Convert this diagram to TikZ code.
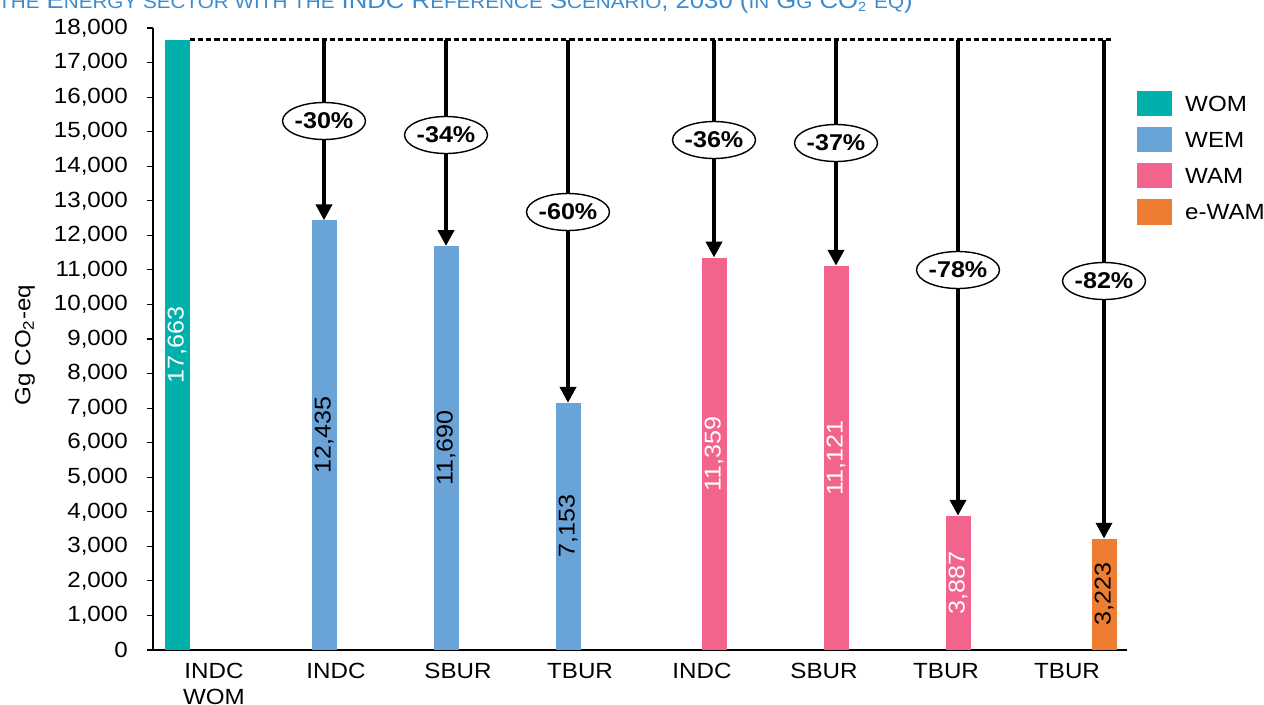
\documentclass[tikz,border=0pt]{standalone}
\usepackage{fontspec}
\setmainfont{Liberation Sans}[FakeStretch=1.1]
\usetikzlibrary{arrows.meta,shapes.geometric}

\definecolor{womcol}{RGB}{0,176,170}
\definecolor{wemcol}{RGB}{106,163,216}
\definecolor{wamcol}{RGB}{242,100,140}
\definecolor{ewamcol}{RGB}{237,125,49}
\definecolor{titlecol}{RGB}{60,140,205}

\newcommand{\smcap}[1]{{\fontsize{10.7}{12}\selectfont #1}}

\begin{document}
\begin{tikzpicture}[x=0.02cm,y=-0.02cm,
  lab/.style={font=\fontsize{12.5}{14.7}\selectfont},
  val/.style={font=\fontsize{13}{15}\selectfont,rotate=90},
  pct/.style={ellipse,draw,fill=white,line width=0.8pt,minimum width=1.62cm,
    minimum height=0.74cm,inner sep=0pt,font=\fontsize{13}{15}\selectfont\bfseries},
  drop/.style={line width=2.8pt,-{Triangle[length=9pt,width=9pt]}}]
  \useasboundingbox (0,0) rectangle (1264,704);

 % title, cut at the top edge
 \node[anchor=base east,inner sep=0pt,text=titlecol,font=\fontsize{13.3}{15}\selectfont] (title) at (913,8.5)
   {\smcap{THE} E\smcap{NERGY SECTOR WITH THE} INDC R\smcap{EFERENCE} S\smcap{CENARIO}, 2030 (\smcap{IN} G\smcap{G} CO\smcap{\textsubscript{2}} \smcap{EQ})};

 % axes
 \draw[line width=0.6pt] (153,650) -- (153,28);
 \draw[line width=0.6pt] (153,650) -- (1127,650);
 \draw[line width=0.6pt] (147,650) -- (153,650);
 \node[lab,anchor=east] (y0) at (134,650) {0};
 \foreach \k in {1,...,18}{
   \draw[line width=0.6pt] (147,{650-\k*34.556}) -- (153,{650-\k*34.556});
   \node[lab,anchor=east] (y\k) at (134,{650-\k*34.556}) {\k,000};
 }
 \node[lab,rotate=90] (ylab) at (25,345) {Gg CO\textsubscript{2}-eq};

 % bars
 \fill[womcol]  (164.5,650) rectangle (189.5,39.6);
 \fill[wemcol]  (311.5,650) rectangle (336.5,220.3);
 \fill[wemcol]  (433.5,650) rectangle (458.5,246.0);
 \fill[wemcol]  (555.5,650) rectangle (580.5,402.8);
 \fill[wamcol]  (701.5,650) rectangle (726.5,257.5);
 \fill[wamcol]  (823.5,650) rectangle (848.5,265.7);
 \fill[wamcol]  (945.5,650) rectangle (970.5,515.7);
 \fill[ewamcol] (1091.5,650) rectangle (1116.5,538.6);

 \node[val,text=white] (v0) at (177,344.8) {17,663};
 \node[val] (v1) at (324,435.2) {12,435};
 \node[val] (v2) at (446,448.0) {11,690};
 \node[val] (v3) at (568,526.4) {7,153};
 \node[val,text=white] (v4) at (714,453.8) {11,359};
 \node[val,text=white] (v5) at (836,457.9) {11,121};
 \node[val,text=white] (v6) at (958,582.9) {3,887};
 \node[val] (v7) at (1104,594.3) {3,223};

 % reference level
 \coordinate (dl) at (189.5,39.6);
 \coordinate (dr) at (1112,39.6);
 \draw[line width=1.3pt,dash pattern=on 3pt off 1.7pt] (dl) -- (dr);

 % reductions
 \coordinate (s1) at (324,39.6);  \coordinate (t1) at (324,220.3);
 \coordinate (s2) at (446,39.6);  \coordinate (t2) at (446,246.0);
 \coordinate (s3) at (568,39.6);  \coordinate (t3) at (568,402.8);
 \coordinate (s4) at (714,39.6);  \coordinate (t4) at (714,257.5);
 \coordinate (s5) at (836,39.6);  \coordinate (t5) at (836,265.7);
 \coordinate (s6) at (958,39.6);  \coordinate (t6) at (958,515.7);
 \coordinate (s7) at (1104,39.6); \coordinate (t7) at (1104,538.6);
 \foreach \i in {1,...,7}
   \draw[drop] (s\i) -- (t\i);

 \node[pct] (p1) at (324,121) {-30\%};
 \node[pct] (p2) at (446,135) {-34\%};
 \node[pct] (p3) at (568,212) {-60\%};
 \node[pct] (p4) at (714,140) {-36\%};
 \node[pct] (p5) at (836,143) {-37\%};
 \node[pct] (p6) at (958,270) {-78\%};
 \node[pct] (p7) at (1104,281) {-82\%};

 % categories
 \node[lab,align=center,anchor=north] (c0) at (214,657) {INDC\\WOM};
 \node[lab] (c1) at (336,671) {INDC};
 \node[lab] (c2) at (458,671) {SBUR};
 \node[lab] (c3) at (580,671) {TBUR};
 \node[lab] (c4) at (702,671) {INDC};
 \node[lab] (c5) at (824,671) {SBUR};
 \node[lab] (c6) at (946,671) {TBUR};
 \node[lab] (c7) at (1067,671) {TBUR};

 % legend
 \fill[womcol]  (1137,91)  rectangle (1172,116);
 \fill[wemcol]  (1137,127) rectangle (1172,152);
 \fill[wamcol]  (1137,163) rectangle (1172,188);
 \fill[ewamcol] (1137,199) rectangle (1172,225);
 \node[lab,anchor=west] (l0) at (1179,103.5) {WOM};
 \node[lab,anchor=west] (l1) at (1179,139.5) {WEM};
 \node[lab,anchor=west] (l2) at (1179,175.5) {WAM};
 \node[lab,anchor=west] (l3) at (1179,212) {e-WAM};

\end{tikzpicture}
\end{document}
